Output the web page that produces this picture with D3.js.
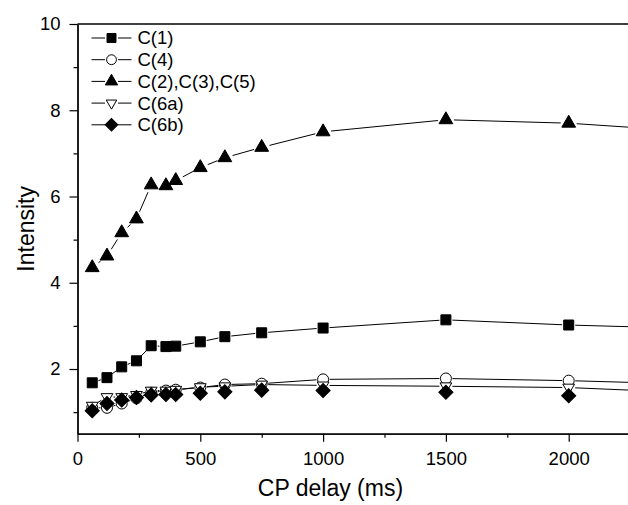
<!DOCTYPE html>
<html>
<head>
<meta charset="utf-8">
<script src="https://cdn.jsdelivr.net/npm/d3@7"></script>
<style>
  body { margin: 0; background: #fff; }
  text { font-family: Arial, "Liberation Sans", sans-serif; }
</style>
</head>
<body>
<div id="chart"></div>
<script>
const delay = [60, 120, 180, 240, 300, 360, 400, 500, 600, 750, 1000, 1500, 2000, 2500]
const c1    = [1.68, 1.80, 2.05, 2.19, 2.54, 2.52, 2.53, 2.63, 2.75, 2.84, 2.95, 3.14, 3.02, 2.94]
const c4    = [1.10, 1.10, 1.20, 1.32, 1.45, 1.50, 1.52, 1.57, 1.64, 1.66, 1.76, 1.78, 1.73, 1.65]
const c235  = [4.35, 4.62, 5.16, 5.48, 6.27, 6.25, 6.37, 6.67, 6.90, 7.14, 7.50, 7.78, 7.70, 7.51]
const c6a   = [1.15, 1.35, 1.35, 1.40, 1.50, 1.50, 1.52, 1.58, 1.60, 1.64, 1.62, 1.60, 1.57, 1.45]
const c6b   = [1.03, 1.20, 1.28, 1.34, 1.40, 1.41, 1.41, 1.44, 1.47, 1.51, 1.50, 1.46, 1.38, 1.30]
const labels = ["C(1)", "C(4)", "C(2),C(3),C(5)", "C(6a)", "C(6b)"]
const xTicks = [0, 500, 1000, 1500, 2000]
const yTicks = [2, 4, 6, 8, 10]

const margin = {top: 24, left: 77.5},
      width  = 2300 * 0.2456,
      height = 409.7

const series = [
  {name: labels[0], values: c1,   shape: d3.symbolSquare,   size: 100, rot: 0,   fill: "#000", gap: 6.5, line: true},
  {name: labels[1], values: c4,   shape: d3.symbolCircle,   size: 95,  rot: 0,   fill: "#fff", gap: 6.5, line: true},
  {name: labels[2], values: c235, shape: d3.symbolTriangle, size: 82,  rot: 0,   fill: "#000", gap: 8,   line: true},
  {name: labels[3], values: c6a,  shape: d3.symbolTriangle, size: 60,  rot: 180, fill: "#fff", gap: 6.5, line: true},
  {name: labels[4], values: c6b,  shape: d3.symbolSquare,   size: 100, rot: 45,  fill: "#000", gap: 7.5, line: false}
]

const x = d3.scaleLinear().domain([0, 2300]).range([0, width])
const y = d3.scaleLinear().domain([0.5, 10]).range([height, 0])

const svg = d3.select("#chart")
  .append("svg")
    .attr("width", 628)
    .attr("height", 505)
  .append("g")
    .attr("transform", "translate(" + margin.left + "," + margin.top + ")")

svg.append("clipPath")
  .attr("id", "clip")
  .append("rect")
    .attr("x", 0)
    .attr("y", -10)
    .attr("width", width)
    .attr("height", height + 10)

//x axis
svg.append("g")
  .attr("transform", "translate(0," + height + ")")
  .call(d3.axisBottom(x).tickValues(xTicks).tickSize(8).tickSizeOuter(0).tickPadding(10).tickFormat(d3.format("d")))
  .style("font-size", 18.5)
svg.append("g")
  .attr("transform", "translate(0," + height + ")")
  .call(d3.axisBottom(x).tickValues(d3.range(250, 2300, 500)).tickSize(4).tickSizeOuter(0).tickFormat(""))

//y axis
svg.append("g")
  .call(d3.axisLeft(y).tickValues(yTicks).tickSize(8).tickSizeOuter(0).tickPadding(9))
  .style("font-size", 18.5)
svg.append("g")
  .call(d3.axisLeft(y).tickValues(d3.range(1, 10, 2)).tickSize(4).tickSizeOuter(0).tickFormat(""))

svg.selectAll(".domain").attr("stroke-width", 1.3)
svg.selectAll(".tick line").attr("stroke-width", 1.2)
svg.selectAll(".tick text").attr("fill", "#000")

//top frame
svg.append("line")
  .attr("x1", 0).attr("x2", width)
  .attr("y1", y(10)).attr("y2", y(10))
  .attr("stroke", "#000")
  .attr("stroke-width", 1.3)

svg.append("text")
  .attr("x", x(1030))
  .attr("y", 472)
  .attr("text-anchor", "middle")
  .style("font-size", 23)
  .text("CP delay (ms)")

svg.append("text")
  .attr("transform", "translate(-44," + (height / 2) + ") rotate(-90)")
  .attr("text-anchor", "middle")
  .style("font-size", 23)
  .text("Intensity")

const plot = svg.append("g").attr("clip-path", "url(#clip)")

// line pieces stop short of the symbols
series.forEach(s => {
  if (!s.line) return
  const pts = delay.map((d, i) => [x(d), y(s.values[i])])
  const segs = d3.pairs(pts).map(([p, q]) => {
    const dx = q[0] - p[0], dy = q[1] - p[1], len = Math.hypot(dx, dy)
    const ux = dx / len, uy = dy / len
    return [[p[0] + ux * s.gap, p[1] + uy * s.gap], [q[0] - ux * s.gap, q[1] - uy * s.gap], len]
  }).filter(g => g[2] > 2 * s.gap)
  plot.selectAll(null)
    .data(segs)
    .enter()
    .append("line")
      .attr("x1", d => d[0][0]).attr("y1", d => d[0][1])
      .attr("x2", d => d[1][0]).attr("y2", d => d[1][1])
      .attr("stroke", "#000")
      .attr("stroke-width", 1)
})

series.forEach(s => {
  plot.selectAll(null)
    .data(delay.map((d, i) => [d, s.values[i]]))
    .enter()
    .append("path")
      .attr("d", d3.symbol().type(s.shape).size(s.size))
      .attr("transform", d => "translate(" + x(d[0]) + "," + y(d[1]) + ") rotate(" + s.rot + ")")
      .attr("fill", s.fill)
      .attr("stroke", "#000")
      .attr("stroke-width", 1)
})

//legend
const legend = svg.selectAll(".legend")
  .data(series)
  .enter()
  .append("g")
    .attr("transform", (d, i) => "translate(34," + (14 + i * 21.7) + ")")
legend.append("line")
  .attr("x1", -20).attr("x2", -6.5)
  .attr("stroke", "#000")
legend.append("line")
  .attr("x1", 6.5).attr("x2", 20)
  .attr("stroke", "#000")
legend.append("path")
  .attr("d", d => d3.symbol().type(d.shape).size(d.size * 0.8)())
  .attr("transform", d => "rotate(" + d.rot + ")")
  .attr("fill", d => d.fill)
  .attr("stroke", "#000")
legend.append("text")
  .attr("x", 26)
  .attr("dy", "0.35em")
  .style("font-size", 18.5)
  .text(d => d.name)
</script>
</body>
</html>
